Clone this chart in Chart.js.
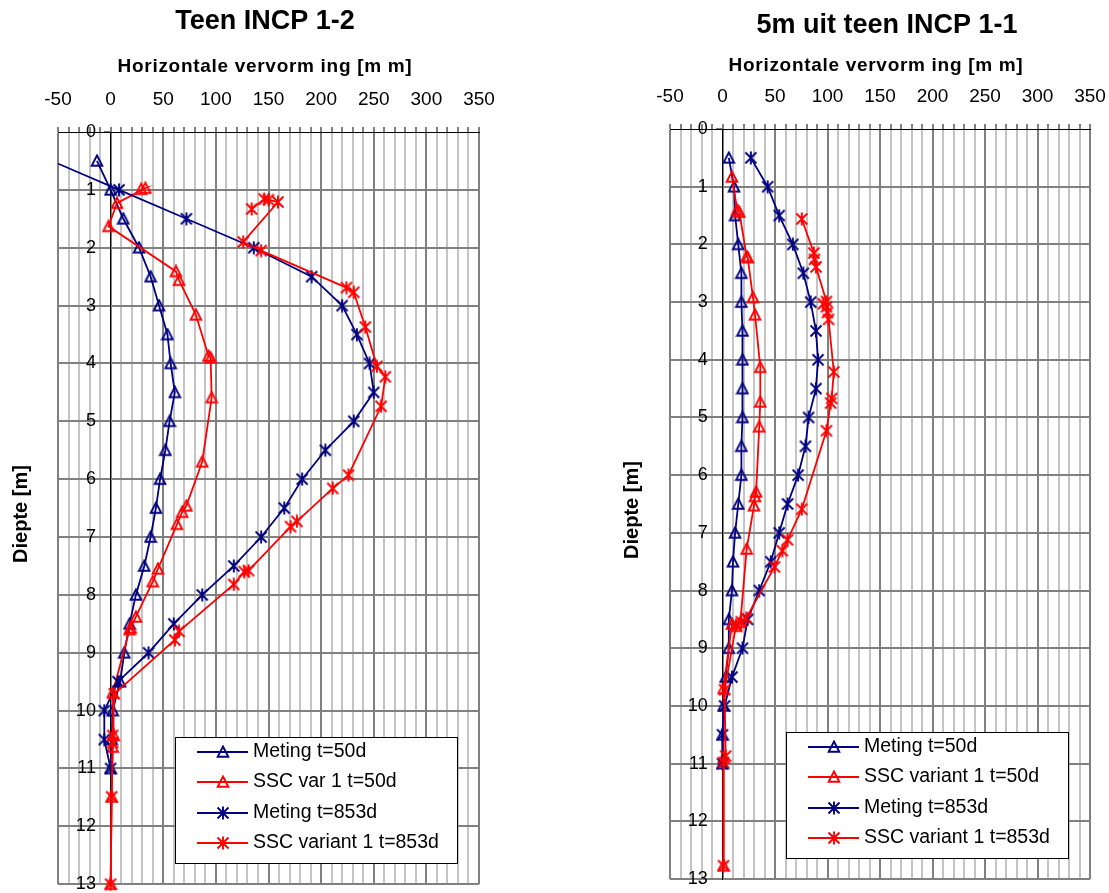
<!DOCTYPE html>
<html>
<head>
<meta charset="utf-8">
<title>Horizontale vervorming INCP</title>
<script src="https://cdn.jsdelivr.net/npm/chart.js@4"></script>
<style>
  body { margin: 0; background: #fff; }
  .panel { position: absolute; top: 0; }
</style>
</head>
<body>
<div class="panel" style="left:0"><canvas id="teen" width="555" height="893"></canvas></div>
<div class="panel" style="left:555px"><canvas id="vijfm" width="554" height="893"></canvas></div>
<script>
const FONT = '"Liberation Sans", Arial, sans-serif';
const NAVY = '#000080';
const RED = '#ff0000';

// x ticks / y ticks
const mmMin = -50, mmMax = 350, mmStep = 10, mmLabelStep = 50;
const depthMin = 0, depthMax = 13;

// Teen INCP 1-2
const teenMeting50Depth = [0.5, 1, 1.5, 2, 2.5, 3, 3.5, 4, 4.5, 5, 5.5, 6, 6.5, 7, 7.5, 8, 8.5, 9, 9.5, 10, 10.5, 11];
const teenMeting50 = [-13, 0, 12, 27, 38, 46, 54, 57, 61, 56, 52, 47, 43, 38, 32, 24, 18, 13, 9, 2, 1, 0];
const teenSsc50Depth = [0.99, 0.97, 1.23, 1.63, 2.41, 2.56, 3.16, 3.87, 3.9, 4.59, 5.7, 6.46, 6.57, 6.78, 7.55, 7.77, 8.38, 8.57, 8.6, 9.69, 10.43, 10.63, 11.49, 13];
const teenSsc50 = [29, 33, 6, -2, 62, 65, 81, 93, 95, 96, 87, 72, 68, 63, 45, 40, 24, 19, 18, 2, 3, 2, 1, 0];
const teenMeting853Depth = [0.5, 1, 1.5, 2, 2.5, 3, 3.5, 4, 4.5, 5, 5.5, 6, 6.5, 7, 7.5, 8, 8.5, 9, 9.5, 10, 10.5, 11];
const teenMeting853 = [-56, 8, 72, 136, 191, 220, 234, 246, 250, 231, 204, 182, 165, 143, 117, 87, 60, 36, 7, -6, -6, 0];
const teenSsc853Depth = [1.33, 1.16, 1.17, 1.21, 1.9, 2.05, 2.69, 2.77, 3.37, 4.05, 4.23, 4.74, 5.93, 6.16, 6.73, 6.82, 7.58, 7.6, 7.82, 8.63, 8.78, 9.71, 10.43, 10.55, 11.49, 13];
const teenSsc853 = [134, 146, 150, 159, 126, 143, 224, 231, 242, 253, 261, 257, 226, 211, 177, 171, 131, 127, 117, 65, 61, 3.5, 2, 2, 1, 0];

// 5m uit teen INCP 1-1
const vijfMeting50Depth = [0.5, 1, 1.5, 2, 2.5, 3, 3.5, 4, 4.5, 5, 5.5, 6, 6.5, 7, 7.5, 8, 8.5, 9, 9.5, 10, 10.5, 11];
const vijfMeting50 = [6, 11, 12, 15, 18, 18, 19, 19, 19, 19, 18, 18, 15, 12, 10, 9, 6, 6, 3, 1, 0, 0];
const vijfSsc50Depth = [0.83, 1.4, 1.44, 2.21, 2.23, 2.92, 3.22, 4.13, 4.73, 5.16, 6.29, 6.37, 6.53, 7.28, 8.55, 8.62, 8.58, 9.7, 10.9, 12.77];
const vijfSsc50 = [9, 14, 16, 23, 24, 29, 31, 36, 36, 35, 32, 31, 30, 23, 17, 13, 9, 1, 1, 1];
const vijfMeting853Depth = [0.5, 1, 1.5, 2, 2.5, 3, 3.5, 4, 4.5, 5, 5.5, 6, 6.5, 7, 7.5, 8, 8.5, 9, 9.5, 10, 10.5, 11];
const vijfMeting853 = [27, 43, 54, 67, 77, 84, 89, 91, 89, 82, 79, 72, 62, 54, 46, 35, 24, 19, 9, 2, 0, 0];
const vijfSsc853Depth = [1.56, 2.15, 2.26, 2.39, 2.99, 3.03, 3.08, 3.18, 3.3, 4.21, 4.67, 4.75, 5.23, 6.59, 7.12, 7.31, 7.59, 8.48, 8.54, 8.6, 9.72, 10.87, 10.98, 12.77];
const vijfSsc853 = [75.5, 87, 87.6, 89, 99, 96, 99, 100, 101, 106, 104, 103, 99, 75.5, 62, 57, 49.5, 22.6, 17.8, 13, 2, 3, 1, 1];

// open marker glyphs drawn once per colour
function markerCanvas(color, kind) {
  const c = document.createElement('canvas');
  c.width = c.height = 14;
  const g = c.getContext('2d');
  g.strokeStyle = color;
  g.lineWidth = 1.9;
  g.beginPath();
  if (kind === 'star') {
    g.moveTo(1.5, 1.5); g.lineTo(12.5, 12.5);
    g.moveTo(12.5, 1.5); g.lineTo(1.5, 12.5);
    g.moveTo(7, 0.5); g.lineTo(7, 13.5);
  } else {
    g.moveTo(7, 1.5);
    g.lineTo(12.3, 11.8);
    g.lineTo(1.7, 11.8);
    g.closePath();
  }
  g.stroke();
  return c;
}

function series(label, depth, mm, color, kind, i) {
  return {
    label,
    data: mm.map((v, k) => ({ x: v, y: depth[k] })),
    borderColor: color,
    borderWidth: 1.8,
    pointStyle: markerCanvas(color, kind),
    pointRadius: 7,
    showLine: true,
    order: 4 - i,
    clip: { left: 0, top: 8, right: 8, bottom: 8 }
  };
}

const insetLegend = {
  id: 'insetLegend',
  afterDatasetsDraw(chart) {
    const { ctx, chartArea } = chart;
    const ds = chart.data.datasets;
    ctx.save();
    ctx.font = '19.5px ' + FONT;
    const w = Math.round(Math.max(...ds.map(d => ctx.measureText(d.label).width)) + 96);
    const h = 126;
    const x0 = Math.round(chartArea.right - 22 - w), y0 = Math.round(chartArea.bottom - 21 - h);
    ctx.fillStyle = '#fff';
    ctx.fillRect(x0, y0, w, h);
    ctx.strokeStyle = '#000';
    ctx.lineWidth = 1;
    ctx.strokeRect(x0 + 0.5, y0 + 0.5, w, h);
    ds.forEach((d, i) => {
      const cy = Math.round(y0 + 15 + i * 30.4);
      ctx.strokeStyle = d.borderColor;
      ctx.lineWidth = 2;
      ctx.beginPath();
      ctx.moveTo(x0 + 22, cy);
      ctx.lineTo(x0 + 73, cy);
      ctx.stroke();
      ctx.drawImage(d.pointStyle, x0 + 41, cy - 7);
      ctx.fillStyle = '#000';
      ctx.textBaseline = 'middle';
      ctx.fillText(d.label, x0 + 78, cy);
    });
    ctx.restore();
  }
};

const panelText = {
  id: 'panelText',
  afterDraw(chart, args, o) {
    const { ctx } = chart;
    ctx.save();
    ctx.fillStyle = '#000';
    ctx.textAlign = 'center';
    ctx.textBaseline = 'alphabetic';
    ctx.font = 'bold 27px ' + FONT;
    ctx.fillText(o.title, o.titleX, o.titleY);
    ctx.font = 'bold 19px ' + FONT;
    ctx.letterSpacing = '0.7px';
    ctx.fillText(o.xTitle, o.xTitleX, o.xTitleY);
    ctx.letterSpacing = '0px';
    ctx.translate(o.yTitleX, o.yTitleY);
    ctx.rotate(-Math.PI / 2);
    ctx.font = 'bold 20px ' + FONT;
    ctx.fillText(o.yTitle, 0, 0);
    ctx.restore();
  }
};

// scales should not push the plot frame around
function noPadding(s) {
  s.paddingLeft = s.paddingRight = s.paddingTop = s.paddingBottom = 0;
}

function makePanel(id, labels, data, frame, text) {
  const datasets = [
    series(labels[0], data[0][0], data[0][1], NAVY, 'triangle', 0),
    series(labels[1], data[1][0], data[1][1], RED, 'triangle', 1),
    series(labels[2], data[2][0], data[2][1], NAVY, 'star', 2),
    series(labels[3], data[3][0], data[3][1], RED, 'star', 3)
  ];
  const depthScale = {
    type: 'linear',
    min: depthMin,
    max: depthMax,
    reverse: true,
    afterFit: noPadding
  };
  return new Chart(document.getElementById(id), {
    type: 'scatter',
    data: { datasets },
    options: {
      responsive: false,
      animation: false,
      events: [],
      layout: { padding: frame.padding },
      plugins: {
        legend: { display: false },
        tooltip: { enabled: false },
        panelText: text
      },
      scales: {
        x: {
          type: 'linear',
          position: 'top',
          min: mmMin,
          max: mmMax,
          afterFit: s => { noPadding(s); s.height = frame.top; },
          ticks: {
            stepSize: mmStep,
            autoSkip: false,
            maxRotation: 0,
            padding: 16,
            color: '#000',
            font: { family: FONT, size: 19 },
            callback: v => (v % mmLabelStep === 0 ? v : '')
          },
          grid: {
            color: c => (c.tick && c.tick.value % mmLabelStep === 0 ? '#808080' : '#c4c4c4'),
            lineWidth: 2,
            tickLength: 5,
            tickColor: '#000',
            tickWidth: 1
          },
          border: { color: '#000', width: 1 }
        },
        // vertical axis line at 0 mm with the depth grid
        y: {
          ...depthScale,
          position: { x: 0 },
          ticks: { stepSize: 1, display: false },
          grid: {
            color: c => (c.tick && c.tick.value === 0 ? 'rgba(0,0,0,0)' : '#808080'),
            lineWidth: 2,
            tickLength: 6,
            tickColor: '#808080'
          },
          border: { color: '#000', width: 1 }
        },
        // depth labels, just left of the 0 mm line
        yLabels: {
          ...depthScale,
          axis: 'y',
          position: { x: -14 },
          ticks: {
            stepSize: 1,
            color: '#000',
            font: { family: FONT, size: 18 }
          },
          grid: { display: false },
          border: { display: false }
        }
      }
    },
    plugins: [insetLegend, panelText]
  });
}

makePanel('teen',
  ['Meting t=50d', 'SSC var 1 t=50d', 'Meting t=853d', 'SSC variant 1 t=853d'],
  [[teenMeting50Depth, teenMeting50], [teenSsc50Depth, teenSsc50],
   [teenMeting853Depth, teenMeting853], [teenSsc853Depth, teenSsc853]],
  { top: 132, padding: { left: 58, right: 76, top: 0, bottom: 7 } },
  { title: 'Teen INCP 1-2', titleX: 265, titleY: 29,
    xTitle: 'Horizontale vervorm ing [m m]', xTitleX: 265, xTitleY: 72,
    yTitle: 'Diepte [m]', yTitleX: 27, yTitleY: 514 });

makePanel('vijfm',
  ['Meting t=50d', 'SSC variant 1 t=50d', 'Meting t=853d', 'SSC variant 1 t=853d'],
  [[vijfMeting50Depth, vijfMeting50], [vijfSsc50Depth, vijfSsc50],
   [vijfMeting853Depth, vijfMeting853], [vijfSsc853Depth, vijfSsc853]],
  { top: 129, padding: { left: 115, right: 19, top: 0, bottom: 14 } },
  { title: '5m uit teen INCP 1-1', titleX: 332, titleY: 33,
    xTitle: 'Horizontale vervorm ing [m m]', xTitleX: 321, xTitleY: 71,
    yTitle: 'Diepte [m]', yTitleX: 83, yTitleY: 510 });
</script>
</body>
</html>
